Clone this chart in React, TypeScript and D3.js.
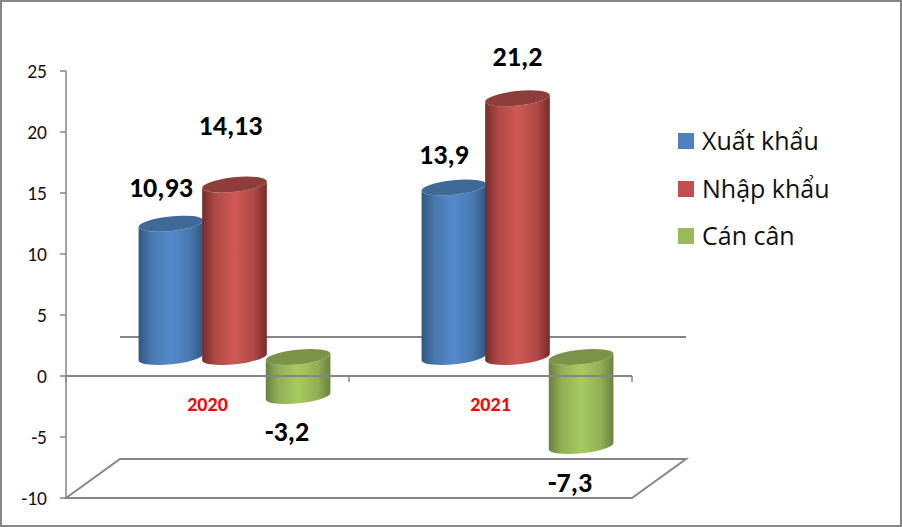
import React from "react";
import * as d3 from "d3";

const categories = ["2020", "2021"];
const seriesNames = ["Xuất khẩu", "Nhập khẩu", "Cán cân"];
const xuatKhau = [10.93, 13.9];
const nhapKhau = [14.13, 21.2];
const canCan = [-3.2, -7.3];
const valueLabels = [["10,93", "13,9"], ["14,13", "21,2"], ["-3,2", "-7,3"]];
const yTicks = [-10, -5, 0, 5, 10, 15, 20, 25];

const colors = [
  { id: "b", legend: "#4f81bd", edge: "#31577f", mid: "#5489cb", top: "#3f6a98" },
  { id: "r", legend: "#c0504d", edge: "#752c2a", mid: "#ce5855", top: "#8f3d3b" },
  { id: "g", legend: "#9bbb59", edge: "#6a8140", mid: "#a7ca60", top: "#7b9348" },
];
// hand-placed label offsets (series, category) relative to the bar end
const labelOffsets = [
  [[-10, -36], [-10, -33]],
  [[-4, -59], [0, -42]],
  [[-11, 35], [-11, 36]],
];

const W = 902, H = 527;
const y = d3.scaleLinear().domain([-10, 25]).range([498, 71]);
const x = d3.scaleBand().domain(categories).range([66, 632]);
const depthX = 54, depthY = 39;
const barDx = 27, barDy = -19;
const rx = 32.5, ry = 7.3, tilt = -6;
const groupStep = 63.6;
const gray = "#868686";
const font = "Carlito, Lato, 'Open Sans', sans-serif";
const legendFont = "'Open Sans', 'Noto Sans', sans-serif";

function Cylinder({ cx, v, c }: { cx: number; v: number; c: (typeof colors)[number] }) {
  const base = y(0) + barDy;
  const end = y(v) + barDy;
  const top = Math.min(base, end);
  const bot = Math.max(base, end);
  const t = (tilt * Math.PI) / 180;
  const ax = rx * Math.cos(t), ay = rx * Math.sin(t);
  const body = `M${cx - ax},${top - ay} L${cx - ax},${bot - ay} A${rx},${ry} ${tilt} 0 0 ${cx + ax},${bot + ay} L${cx + ax},${top + ay} A${rx},${ry} ${tilt} 0 1 ${cx - ax},${top - ay} Z`;
  return (
    <g>
      <path d={body} fill={`url(#grad-${c.id})`} />
      <ellipse cx={cx} cy={top} rx={rx} ry={ry} fill={c.top} transform={`rotate(${tilt} ${cx} ${top})`} />
    </g>
  );
}

export default function App() {
  const series = [xuatKhau, nhapKhau, canCan];
  const z = y(0), fl = y(-10);
  const x0 = 66, x1 = 632;
  const bars = series.flatMap((vals, s) =>
    vals.map((v, i) => ({ s, i, v, cx: x(categories[i])! + x.bandwidth() / 2 + barDx + (s - 1) * groupStep }))
  );
  return (
    <svg width={W} height={H} style={{ position: "absolute", left: 0, top: 0 }}>
      <defs>
        {colors.map((c) => (
          <linearGradient key={c.id} id={`grad-${c.id}`} x1="0" x2="1" y1="0" y2="0">
            <stop offset="0" stopColor={c.edge} />
            <stop offset="0.2" stopColor={d3.interpolateRgb(c.edge, c.mid)(0.65)} />
            <stop offset="0.5" stopColor={c.mid} />
            <stop offset="0.8" stopColor={d3.interpolateRgb(c.edge, c.mid)(0.65)} />
            <stop offset="1" stopColor={c.edge} />
          </linearGradient>
        ))}
      </defs>
      <rect x={1} y={1} width={W - 2} height={H - 2} fill="#fff" stroke={gray} strokeWidth={2} />

      {/* floor */}
      <path d={`M${x0},${fl} L${x0 + depthX},${fl - depthY} H${x1 + depthX} L${x1},${fl} Z`} fill="none" stroke={gray} strokeWidth={2} />
      {/* back edge of the zero plane */}
      <line x1={x0 + depthX} x2={x1 + depthX} y1={z - depthY} y2={z - depthY} stroke={gray} strokeWidth={2} />

      {/* value axis */}
      <line x1={x0} x2={x0} y1={y(25)} y2={fl} stroke={gray} strokeWidth={1.5} />
      {yTicks.map((t) => (
        <g key={t}>
          <line x1={x0 - 6} x2={x0} y1={y(t)} y2={y(t)} stroke={gray} strokeWidth={1.5} />
          <text x={47} y={y(t)} dy="0.35em" textAnchor="end" fontFamily={font} fontSize={19.5} fill="#111">{t}</text>
        </g>
      ))}

      {bars.filter((b) => b.s < 2).map((b) => <Cylinder key={`${b.s}-${b.i}`} cx={b.cx} v={b.v} c={colors[b.s]} />)}
      {bars.filter((b) => b.s === 2).map((b) => <Cylinder key={`${b.s}-${b.i}`} cx={b.cx} v={b.v} c={colors[b.s]} />)}

      {/* front edge of the zero plane, over the bars */}
      <line x1={x0} x2={x1} y1={z} y2={z} stroke={gray} strokeWidth={2} />
      {[...categories.map((c) => x(c)! + x.bandwidth()), x0].map((tx) => (
        <line key={tx} x1={tx} x2={tx} y1={z} y2={z + 6} stroke={gray} strokeWidth={1.5} />
      ))}

      {categories.map((c) => (
        <text key={c} x={x(c)! + x.bandwidth() / 2} y={404} dy="0.35em" textAnchor="middle" fontFamily={font} fontWeight={700} fontSize={20} fill="#ff0000">{c}</text>
      ))}

      {bars.map((b) => {
        const [dx, dy] = labelOffsets[b.s][b.i];
        return (
          <text key={`l${b.s}-${b.i}`} x={b.cx + dx} y={y(b.v) + barDy + dy} dy="0.35em" textAnchor="middle" fontFamily={font} fontWeight={700} fontSize={28} fill="#000">
            {valueLabels[b.s][b.i]}
          </text>
        );
      })}

      {seriesNames.map((n, i) => {
        const cy = [141, 189, 236][i];
        return (
          <g key={n}>
            <rect x={678} y={cy - 8} width={16} height={16} fill={colors[i].legend} />
            <text x={702} y={cy} dy="0.35em" fontFamily={legendFont} fontSize={25} fill="#111">{n}</text>
          </g>
        );
      })}
    </svg>
  );
}
